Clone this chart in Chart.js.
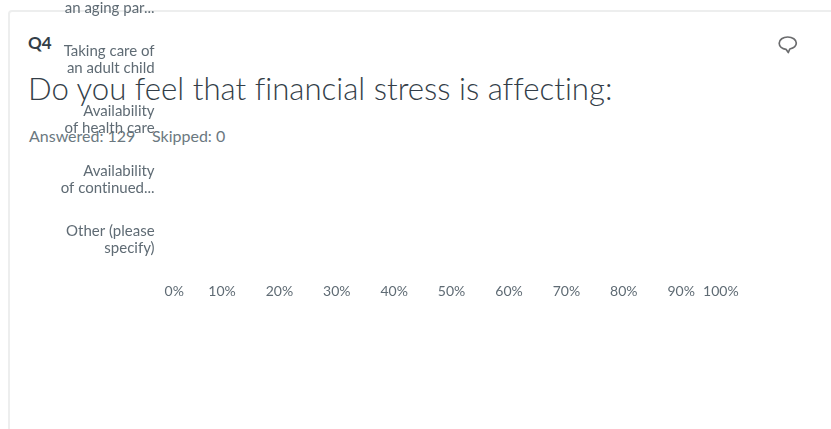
<!DOCTYPE html>
<html><head><meta charset="utf-8">
<script src="https://cdn.jsdelivr.net/npm/chart.js@4"></script>
<style>
html,body{margin:0;padding:0;background:#fff;overflow:hidden;width:831px;height:429px;font-family:Lato,sans-serif;font-variant-ligatures:none}
#card{position:absolute;left:8px;top:10px;width:840px;height:440px;border:2px solid #edeeee;border-radius:4px;box-sizing:border-box}
.t{position:absolute;white-space:nowrap;line-height:1}
#q{left:28px;top:34px;font-size:17px;font-weight:700;color:#333e48}
#title{left:28px;top:73px;font-size:31.2px;font-weight:300;color:#333e48}
#ans{left:29px;top:128px;font-size:16px;color:#6b787f}
#skip{left:152px;top:128px;font-size:16px;color:#6b787f}
#wrap{position:absolute;left:0;top:-40px;width:831px;height:469px}
#icon{position:absolute;left:778px;top:35px}
</style></head><body>
<div id="card"></div>
<div class="t" id="q">Q4</div>
<div class="t" id="title">Do you feel that financial stress is affecting:</div>
<div class="t" id="ans">Answered: 129</div>
<div class="t" id="skip">Skipped: 0</div>
<svg id="icon" width="20" height="20" viewBox="0 0 20 20"><path d="M9.7 2C5 2 1.2 4.600 1.200 8.300C1.200 11.500 4.200 13.900 8 14.300L10.300 17.500L11.800 14C15.500 13.200 18.300 11.200 18.300 8.100C18.300 4.500 14.500 2 9.700 2Z" fill="none" stroke="#6b6c6e" stroke-width="1.700" stroke-linejoin="round"/></svg>
<div id="wrap"><canvas id="c" width="831" height="469"></canvas></div>
<script>
const categories = [
  ["Taking care of","an aging par..."],
  ["Taking care of","an adult child"],
  ["Availability","of health care"],
  ["Availability","of continued..."],
  ["Other (please","specify)"]
];
const seriesValues = [0,0,0,0,0];
const tickValues = [0,10,20,30,40,50,60,70,80,90,100];
const labelFont = {family:'Lato, sans-serif', size:15, lineHeight:1.14};
new Chart(document.getElementById('c'),{
  type:'bar',
  data:{labels:categories,datasets:[{data:seriesValues,backgroundColor:'#00bf6f',borderWidth:0}]},
  options:{
    indexAxis:'y',responsive:false,animation:false,
    layout:{padding:{top:10,right:92.4,left:0,bottom:0}},
    plugins:{legend:{display:false},tooltip:{enabled:false},title:{display:false}},
    scales:{
      y:{
        grid:{display:false},border:{display:false},
        afterFit(s){s.width=164.6;s.paddingTop=0;s.paddingBottom=0},
        ticks:{color:'#5f6b74',font:labelFont,padding:2,crossAlign:'near',autoSkip:false,maxRotation:0,mirror:false}
      },
      x:{
        min:0,max:100,
        afterFit(s){s.height=159},
        afterBuildTicks(s){s.ticks=tickValues.map(v=>({value:v}))},
        grid:{display:false},border:{display:false},
        ticks:{color:'#5f6b74',font:{family:'Lato, sans-serif',size:14},align:'inner',padding:5,maxRotation:0,autoSkip:false,callback:v=>v+'%'}
      }
    }
  }
});
</script>
</body></html>
